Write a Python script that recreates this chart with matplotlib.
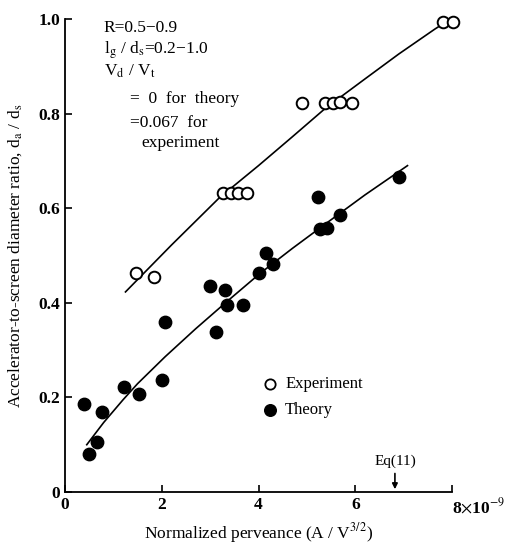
import numpy as np
import matplotlib
matplotlib.use("Agg")
import matplotlib.pyplot as plt

plt.rcParams["font.family"] = ["Liberation Serif", "DejaVu Serif"]
plt.rcParams["mathtext.fontset"] = "stix"

# 实验数据（空心圆）
exp_x = [1.46, 1.83, 3.27, 3.43, 3.58, 3.76, 4.89, 5.38, 5.53, 5.69, 5.93, 7.82, 8.03]
exp_y = [0.462, 0.455, 0.633, 0.633, 0.633, 0.633, 0.822, 0.822, 0.822, 0.824, 0.822, 0.993, 0.993]

# 理论数据（实心圆）
th_x = [0.39, 0.50, 0.67, 0.77, 1.21, 1.52, 2.01, 2.06, 3.00, 3.13, 3.31, 3.35, 3.67,
        4.01, 4.15, 4.29, 5.23, 5.28, 5.42, 5.69, 6.91]
th_y = [0.186, 0.080, 0.106, 0.170, 0.221, 0.208, 0.236, 0.359, 0.436, 0.339, 0.428,
        0.395, 0.395, 0.462, 0.506, 0.483, 0.623, 0.556, 0.558, 0.585, 0.666]

# 拟合曲线
exp_fit_x = [1.25, 2.2, 3.19, 4.0, 4.7, 5.38, 6.21, 6.9, 7.65, 7.82]
exp_fit_y = [0.423, 0.522, 0.622, 0.690, 0.751, 0.811, 0.874, 0.926, 0.979, 0.990]
th_fit_x = [0.45, 0.8, 1.2, 1.5, 2.07, 2.7, 3.34, 4.03, 4.7, 5.4, 6.2, 7.08]
th_fit_y = [0.100, 0.147, 0.195, 0.229, 0.286, 0.345, 0.402, 0.462, 0.515, 0.568, 0.628, 0.690]

x_ticks = [0, 2, 4, 6, 8]
x_labels = ["0", "2", "4", "6", r"8$\times$10$^{-9}$"]
y_ticks = [0, 0.2, 0.4, 0.6, 0.8, 1.0]
y_labels = ["0", "0.2", "0.4", "0.6", "0.8", "1.0"]

eq11_x = 6.82

fig = plt.figure(figsize=(5.19, 5.5), dpi=100)
ax = fig.add_axes([65 / 519, 1 - 492 / 550, 387 / 519, 473 / 550])

ax.plot(exp_fit_x, exp_fit_y, color="black", lw=1.2)
ax.plot(th_fit_x, th_fit_y, color="black", lw=1.2)
ax.scatter(exp_x, exp_y, s=70, facecolors="white", edgecolors="black", linewidths=1.4,
           zorder=3, clip_on=False)
ax.scatter(th_x, th_y, s=80, color="black", zorder=3, clip_on=False)

ax.set_xlim(0, 8)
ax.set_ylim(0, 1.0)
ax.spines["top"].set_visible(False)
ax.spines["right"].set_visible(False)
ax.spines["left"].set_linewidth(1.3)
ax.spines["bottom"].set_linewidth(1.3)
ax.set_xticks(x_ticks)
ax.set_xticklabels(x_labels)
ax.set_yticks(y_ticks)
ax.set_yticklabels(y_labels)
ax.tick_params(direction="in", length=5, width=1.2, labelsize=12.5)
for lab in ax.get_xticklabels() + ax.get_yticklabels():
    lab.set_fontweight("bold")
ax.get_xticklabels()[-1].set_horizontalalignment("left")

ax.set_xlabel(r"Normalized perveance (A / V$^{3/2}$)", fontsize=12.5, labelpad=3)
ax.set_ylabel(r"Accelerator-to-screen diameter ratio, d$_\mathrm{a}$ / d$_\mathrm{s}$",
              fontsize=12.5, labelpad=10)

# 参数说明
fs = 12.5
ax.text(0.100, 0.981, "R=0.5−0.9", transform=ax.transAxes, fontsize=fs, va="center")
ax.text(0.100, 0.934, r"l$_\mathrm{g}$ / d$_\mathrm{s}$=0.2−1.0", transform=ax.transAxes,
        fontsize=fs, va="center")
ax.text(0.100, 0.890, r"V$_\mathrm{d}$ / V$_\mathrm{t}$", transform=ax.transAxes,
        fontsize=fs, va="center")
ax.text(0.168, 0.831, "=  0  for  theory", transform=ax.transAxes, fontsize=fs, va="center")
ax.text(0.168, 0.780, "=0.067  for", transform=ax.transAxes, fontsize=fs, va="center")
ax.text(0.198, 0.738, "experiment", transform=ax.transAxes, fontsize=fs, va="center")

# 图例
ax.scatter([4.24], [0.228], s=55, facecolors="white", edgecolors="black", linewidths=1.3)
ax.scatter([4.24], [0.173], s=70, color="black")
ax.text(4.55, 0.228, "Experiment", fontsize=12, va="center")
ax.text(4.55, 0.173, "Theory", fontsize=12, va="center")

# Eq(11) 箭头
ax.annotate("", xy=(eq11_x, 0.0), xytext=(eq11_x, 0.045),
            arrowprops=dict(arrowstyle="-|>", color="black", lw=1.2, mutation_scale=8))
ax.text(eq11_x, 0.065, "Eq(11)", fontsize=11, ha="center", va="center")

fig.savefig("out.png", dpi=100)
